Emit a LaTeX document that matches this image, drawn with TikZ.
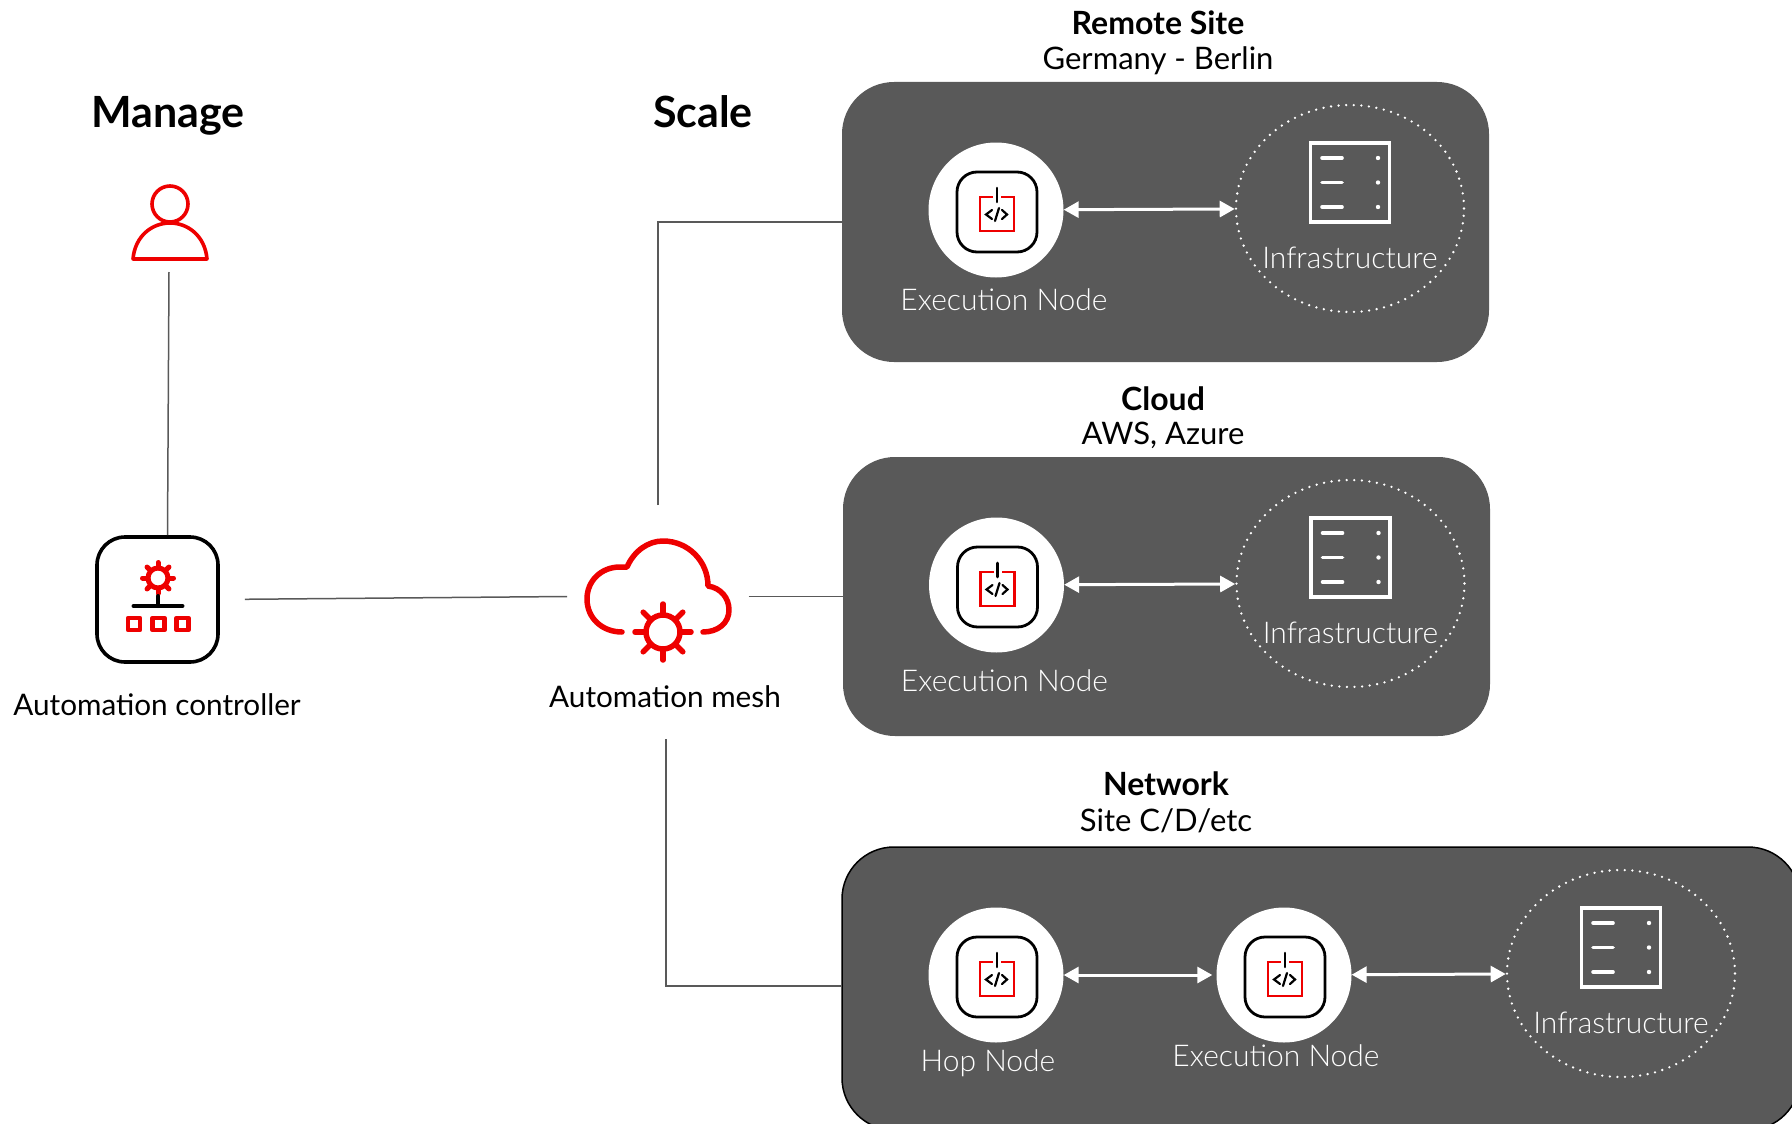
\documentclass[tikz,border=0pt]{standalone}
\usepackage{fontspec}
\setmainfont{Lato}
\newfontfamily\lightfont{Lato Light}
\usetikzlibrary{shapes.geometric, positioning, arrows.meta}
\definecolor{rhred}{HTML}{EE0000}
\definecolor{panelgray}{HTML}{595959}
\tikzset{
    panel/.style={rectangle, fill=panelgray, rounded corners=52pt, inner sep=0pt},
    nodedisc/.style={circle, fill=white, minimum size=135pt, inner sep=0pt},
    infra/.style={ellipse, draw=white, line width=2.6pt, line cap=round, dash pattern=on 0pt off 7.6pt, minimum width=228pt, minimum height=207pt, inner sep=0pt},
    serverbox/.style={rectangle, draw=white, line width=3.4pt, minimum size=79pt, inner sep=0pt},
    link/.style={draw=panelgray, line width=1.5pt},
    twoway/.style={draw=white, line width=3pt, {Triangle[length=15pt,width=16pt]}-{Triangle[length=15pt,width=16pt]}},
    heading/.style={font=\bfseries\fontsize{43}{46}\selectfont, inner sep=0pt, anchor=base},
    title/.style={font=\bfseries\fontsize{32}{36}\selectfont, inner sep=0pt},
    sub/.style={font=\fontsize{31}{36}\selectfont, inner sep=0pt},
    caption/.style={font=\fontsize{29.7}{32}\selectfont, inner sep=0pt},
    whitetext/.style={font=\lightfont\fontsize{30}{34}\selectfont, text=white, inner sep=0pt},
    redline/.style={draw=rhred, line cap=round, line join=round},
    pics/gearicon/.style n args={3}{code={
        \draw[redline, line width=#3] (0,0) circle (#1);
        \foreach \a in {0,45,...,315}
            \draw[redline, line width=#3] (\a:#1) -- (\a:#2);
    }},
    pics/codeicon/.style={code={
        \draw[black, line width=2.8pt, rounded corners=20pt] (-39,-38) rectangle (41,42);
        \draw[rhred, line width=2.6pt] (-3,-13) -- (-16,-13) -- (-16,21) -- (18,21) -- (18,-13) -- (5,-13);
        \draw[black, line width=2.6pt, line cap=round] (1,-22) -- (1,-8);
        \draw[black, line width=2.2pt, line cap=round] (-4,0) -- (-10,4.5) -- (-4,9) (-1,11) -- (3,-2) (6,0) -- (11,4.5) -- (6,9);
    }},
    pics/servericon/.style={code={
        \foreach \y in {-24.5,0,24.5} {
            \draw[white, line width=3.6pt, line cap=round] (-28,\y) -- (-8,\y);
            \fill[white] (28,\y) circle (2.2);
        }
    }},
    pics/controlicon/.style={code={
        \pic at (0.5,-21.5) {gearicon={10}{15.5}{5pt}};
        \draw[black, line width=4pt, line cap=round] (0.5,-3.5) -- (0.5,6.5) (-24,6.5) -- (25,6.5);
        \foreach \x in {-23.5,1,25}
            \draw[rhred, line width=4.5pt, line join=round] (\x-6,18.5) rectangle (\x+6,30.5);
    }},
}

\begin{document}
\begin{tikzpicture}[x=1pt, y=-1pt]

\useasboundingbox (0,0) rectangle (1792,1124);
\clip (0,0) rectangle (1792,1124);

\node[heading] (manage) at (168,127) {Manage};
\node[heading] (scale) at (703,127) {Scale};

\node[panel, minimum width=647pt, minimum height=280pt] (panelA) at (1165.5,222) {};
\node[panel, minimum width=647pt, minimum height=279pt] (panelB) at (1166.5,596.5) {};
\node[panel, draw=black, line width=1.5pt, minimum width=958pt, minimum height=283pt] (panelC) at (1321,988.5) {};

\node[title] (remote) at (1158,23) {Remote Site};
\node[sub] (berlin) at (1158,61) {Germany - Berlin};
\node[title] (cloud) at (1163,399) {Cloud};
\node[sub] (azure) at (1163,435) {AWS, Azure};
\node[title] (network) at (1166,784) {Network};
\node[sub] (site) at (1166,821) {Site C/D/etc};

\coordinate (userS) at (169,272);
\draw[rhred, line width=3.6pt] (170,204) circle (18);
\draw[rhred, line width=3.6pt, line join=round] (133,259) .. controls (135,236) and (152,223) .. (170,223) .. controls (188,223) and (205,236) .. (207,259) -- cycle;

\node[rectangle, draw=black, line width=3.6pt, rounded corners=28pt, minimum width=121pt, minimum height=125pt, inner sep=0pt] (ctrl) at (157.5,599.5) {};
\pic at (ctrl) {controlicon};
\node[caption] (ctrlname) at (157,705) {Automation controller};

\draw[redline, line width=5.5pt] (622,632) .. controls (602,632) and (587,618) .. (587,599) .. controls (587,581) and (601,567) .. (620,567) -- (627,567) .. controls (634,551) and (648,541) .. (663,541) .. controls (688,541) and (708,561) .. (708,586) .. controls (721,588) and (729,598) .. (729,610) .. controls (729,623) and (718,632) .. (703,632);
\pic at (663,632) {gearicon={17}{28}{5.5pt}};
\node[caption] (meshname) at (665,697) {Automation mesh};
\coordinate (meshN) at (658,505);
\coordinate (meshW) at (567,596.5);
\coordinate (meshE) at (748.5,596.5);
\coordinate (meshS) at (666,739);

\node[nodedisc] (execA) at (996,210) {};
\pic at (execA) {codeicon};
\node[whitetext] (execAname) [below=11pt of execA, xshift=8pt] {Execution Node};
\node[infra] (infraA) [right=171pt of execA, yshift=1.5pt] {};
\node[serverbox] (srvA) at ([yshift=26pt]infraA.center) {};
\pic at (srvA) {servericon};
\node[whitetext] (infraAname) [below=23pt of srvA] {Infrastructure};

\node[nodedisc] (execB) at (996.5,585) {};
\pic at (execB) {codeicon};
\node[whitetext] (execBname) [below=17pt of execB, xshift=8pt] {Execution Node};
\node[infra] (infraB) [right=171pt of execB, yshift=1.5pt] {};
\node[serverbox] (srvB) at ([yshift=26pt]infraB.center) {};
\pic at (srvB) {servericon};
\node[whitetext] (infraBname) [below=23pt of srvB] {Infrastructure};

\node[nodedisc] (hopC) at (996,975) {};
\pic at (hopC) {codeicon};
\node[whitetext] (hopCname) [below=7pt of hopC, xshift=-8pt] {Hop Node};
\node[nodedisc] (execC) at (1284,975) {};
\pic at (execC) {codeicon};
\node[whitetext] (execCname) [below=2pt of execC, xshift=-8pt] {Execution Node};
\node[infra] (infraC) [right=154pt of execC, yshift=1.5pt] {};
\node[serverbox] (srvC) at ([yshift=26pt]infraC.center) {};
\pic at (srvC) {servericon};
\node[whitetext] (infraCname) [below=23pt of srvC] {Infrastructure};

\draw[twoway] (execA) -- (infraA);
\draw[twoway] (execB) -- (infraB);
\draw[twoway, shorten >=4pt] (hopC) -- (execC.west);
\draw[twoway] (execC) -- (infraC);

\draw[link] (userS) -- ([xshift=10pt]ctrl.north);
\draw[link, shorten <=25pt] (ctrl.east) -- (meshW);
\draw[link] (meshE) -- (panelB.west);
\draw[link] (meshN) |- (panelA.west);
\draw[link] (meshS) |- ([yshift=2.5pt]panelC.west);

\end{tikzpicture}
\end{document}
